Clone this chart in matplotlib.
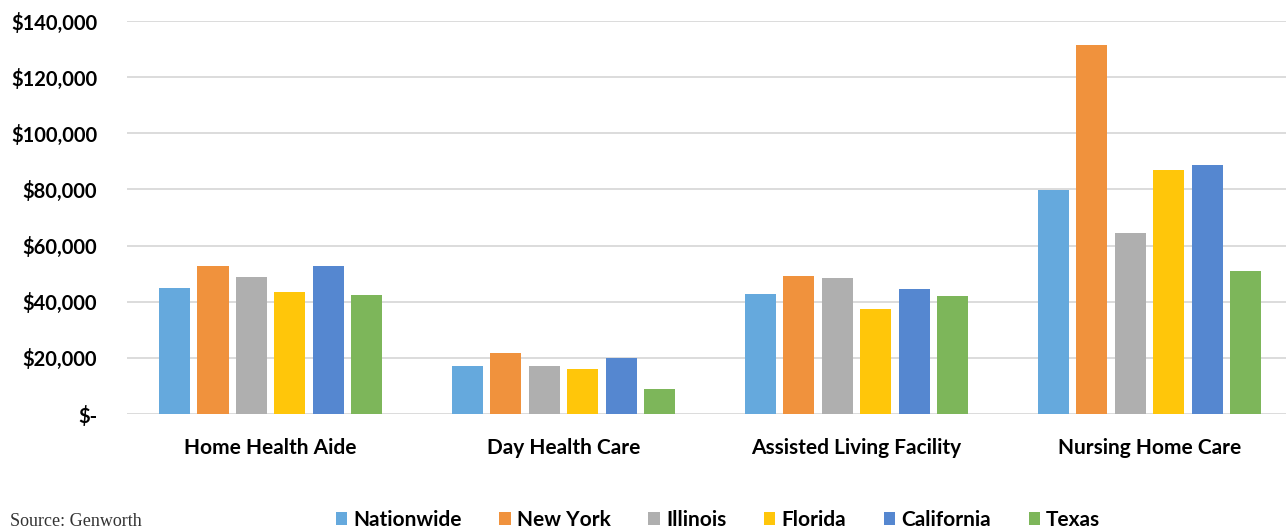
import numpy as np
import matplotlib
matplotlib.use("Agg")
import matplotlib.pyplot as plt
from matplotlib.ticker import FuncFormatter

categories = ["Home Health Aide", "Day Health Care", "Assisted Living Facility", "Nursing Home Care"]
regions = ["Nationwide", "New York", "Illinois", "Florida", "California", "Texas"]
nationwide = [45000, 17000, 42900, 79800]
new_york = [52600, 21700, 49200, 131600]
illinois = [48800, 17000, 48300, 64500]
florida = [43500, 16200, 37500, 86900]
california = [52600, 19900, 44700, 88800]
texas = [42500, 8900, 42000, 50800]
colors = ["#65a9dd", "#f0923d", "#afafaf", "#ffc60a", "#5587d0", "#7db65a"]
yticks = [0, 20000, 40000, 60000, 80000, 100000, 120000, 140000]

series = [nationwide, new_york, illinois, florida, california, texas]

plt.rcParams["font.family"] = ["Lato", "DejaVu Sans"]
fig = plt.figure(figsize=(12.86, 5.29), dpi=100)
ax = fig.add_axes([127 / 1286, 115 / 529, 1159 / 1286, 393 / 529])

x = np.arange(len(categories))
step = 0.131
width = 0.106
for i, (name, vals) in enumerate(zip(regions, series)):
    ax.bar(x + (i - 2.5) * step, vals, width, color=colors[i], label=name, zorder=3)

ax.set_ylim(0, 140000)
ax.set_xlim(-0.49, 3.466)
ax.set_yticks(yticks)
ax.yaxis.set_major_formatter(FuncFormatter(lambda v, p: "$-" if v == 0 else f"${v:,.0f}"))
ax.grid(axis="y", color="#d9d9d9", linewidth=1.3, zorder=0)
for s in ax.spines.values():
    s.set_visible(False)
ax.tick_params(axis="both", length=0)
ax.tick_params(axis="y", pad=21.5, labelsize=14.5)
ax.set_xticks(x)
ax.set_xticklabels(categories, fontsize=15, fontweight="bold")
ax.tick_params(axis="x", pad=17)
for lbl in ax.get_yticklabels():
    lbl.set_fontweight("bold")

fig.legend(loc="center", bbox_to_anchor=(718 / 1286, 1 - 520 / 529), ncol=6, frameon=False,
           prop={"weight": "bold", "size": 15}, handlelength=0.55, handleheight=0.55,
           handletextpad=0.3, columnspacing=1.8)
fig.text(10 / 1286, 1 - 521 / 529, "Source: Genworth", family="Liberation Serif",
         fontsize=13, color="#333333", va="center")

fig.savefig("out.png", dpi=100)
